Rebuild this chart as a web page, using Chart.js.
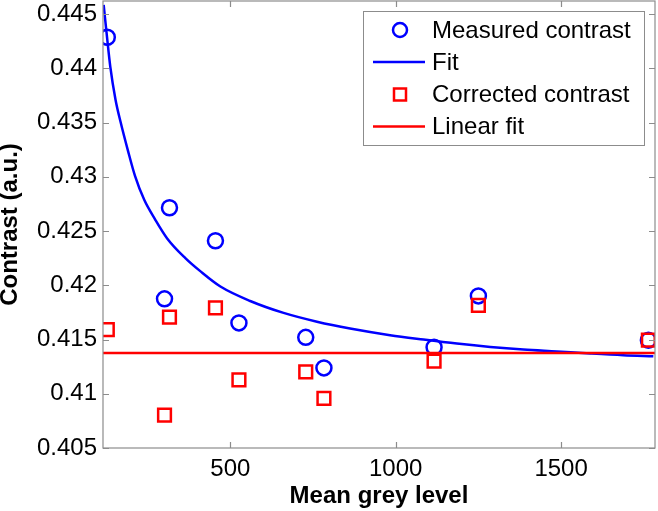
<!DOCTYPE html>
<html>
<head>
<meta charset="utf-8">
<script src="https://cdn.jsdelivr.net/npm/chart.js@4.4.1/dist/chart.umd.min.js"></script>
<style>
  body { margin: 0; background: #fff; }
  canvas { display: block; }
</style>
</head>
<body>
<canvas id="chart" width="658" height="511"></canvas>
<script>
// values
const greyLevels = [128, 301, 316, 455, 526, 728, 783, 1116, 1250, 1764];
const measured   = [0.44286, 0.41875, 0.42714, 0.42410, 0.41653, 0.41520, 0.41238, 0.41429, 0.41902, 0.41494];
const corrected  = [0.41592, 0.40802, 0.41706, 0.41792, 0.41127, 0.41201, 0.40958, 0.41300, 0.41814, 0.41494];

// fitted curve
const fitX = [117, 127, 137, 153, 168, 190, 212, 240, 272, 309, 364, 409, 470, 560, 661, 762, 862, 983, 1084, 1185, 1286, 1386, 1487, 1588, 1688, 1779];
const fitY = [0.44584, 0.44291, 0.44015, 0.43708, 0.43507, 0.43246, 0.43006, 0.42785, 0.42610, 0.42432, 0.42250, 0.42130,
              0.41988, 0.41855, 0.41745, 0.41664, 0.41601, 0.41540, 0.41500, 0.41463, 0.41432, 0.41408, 0.41390, 0.41371, 0.41355, 0.41346];

const linearX = [115, 1784];
const linearY = [0.41376, 0.41376];

const xTicks = [500, 1000, 1500];
const yTicks = [0.405, 0.41, 0.415, 0.42, 0.425, 0.43, 0.435, 0.44, 0.445];

const FONT = '"Liberation Sans", Arial, sans-serif';

function pts(xs, ys) {
    return xs.map((x, i) => ({ x: x, y: ys[i] }));
}

// no extra room for overhanging labels
function noPad(s) {
    s.paddingTop = 0; s.paddingBottom = 0;
    s.paddingLeft = 0; s.paddingRight = 0;
}

// matlab style box with inward ticks
const boxPlugin = {
    id: 'box',
    afterDraw(chart) {
        const ctx = chart.ctx;
        const a = chart.chartArea;
        const xs = chart.scales.x, ys = chart.scales.y;
        const len = 6;
        ctx.save();
        ctx.strokeStyle = '#8c8c8c';
        ctx.lineWidth = 1.2;
        ctx.strokeRect(a.left, a.top, a.right - a.left, a.bottom - a.top);
        ctx.beginPath();
        xTicks.forEach(v => {
            const px = Math.round(xs.getPixelForValue(v)) + 0.5;
            ctx.moveTo(px, a.bottom); ctx.lineTo(px, a.bottom - len);
            ctx.moveTo(px, a.top); ctx.lineTo(px, a.top + len);
        });
        yTicks.forEach(v => {
            const py = Math.round(ys.getPixelForValue(v)) + 0.5;
            ctx.moveTo(a.left, py); ctx.lineTo(a.left + len, py);
            ctx.moveTo(a.right, py); ctx.lineTo(a.right - len, py);
        });
        ctx.stroke();
        ctx.restore();
    }
};

// legend box inside the plot, top right
const legendPlugin = {
    id: 'insideLegend',
    afterDatasetsDraw(chart) {
        const ctx = chart.ctx;
        const x0 = 363.5, y0 = 11.5, w = 281, h = 134;
        ctx.save();
        ctx.fillStyle = '#fff';
        ctx.fillRect(x0, y0, w, h);
        ctx.strokeStyle = '#8c8c8c';
        ctx.lineWidth = 1;
        ctx.strokeRect(x0, y0, w, h);
        ctx.font = '24px ' + FONT;
        ctx.textBaseline = 'middle';
        ctx.textAlign = 'left';
        const rowY = [30, 62, 94.5, 126.5];
        chart.data.datasets.forEach((ds, i) => {
            const y = rowY[i];
            ctx.strokeStyle = ds.borderColor;
            ctx.lineWidth = ds.borderWidth;
            ctx.beginPath();
            if (ds.showLine) {
                ctx.moveTo(373, y); ctx.lineTo(425, y);
            } else if (ds.pointStyle === 'circle') {
                ctx.arc(400, y, 7, 0, Math.PI * 2);
            } else {
                ctx.rect(394, y - 6, 12, 12);
            }
            ctx.stroke();
            ctx.fillStyle = '#000';
            ctx.fillText(ds.label, 432, y + 1);
        });
        ctx.restore();
    }
};

new Chart(document.getElementById('chart'), {
    type: 'scatter',
    data: {
        datasets: [
            {
                label: 'Measured contrast',
                data: pts(greyLevels, measured),
                showLine: false,
                pointStyle: 'circle',
                pointRadius: 7.5,
                borderColor: '#0000ff',
                backgroundColor: 'transparent',
                borderWidth: 2.5,
                order: 4
            },
            {
                label: 'Fit',
                data: pts(fitX, fitY),
                showLine: true,
                cubicInterpolationMode: 'monotone',
                pointRadius: 0,
                borderColor: '#0000ff',
                borderWidth: 2.5,
                order: 3
            },
            {
                label: 'Corrected contrast',
                data: pts(greyLevels, corrected),
                showLine: false,
                pointStyle: 'rect',
                pointRadius: 9,
                borderColor: '#ff0000',
                backgroundColor: 'transparent',
                borderWidth: 2.5,
                order: 2
            },
            {
                label: 'Linear fit',
                data: pts(linearX, linearY),
                showLine: true,
                pointRadius: 0,
                borderColor: '#ff0000',
                borderWidth: 2.5,
                order: 1
            }
        ]
    },
    options: {
        responsive: false,
        animation: false,
        layout: { autoPadding: false, padding: { top: 1, right: 3, left: 0, bottom: 0 } },
        plugins: {
            legend: { display: false },
            tooltip: { enabled: false }
        },
        scales: {
            x: {
                type: 'linear',
                min: 115,
                max: 1784,
                grid: { display: false, drawTicks: false },
                border: { display: false },
                afterBuildTicks: s => { s.ticks = xTicks.map(v => ({ value: v })); },
                afterFit: s => { s.height = 63; noPad(s); },
                ticks: {
                    color: '#000',
                    padding: 7,
                    maxRotation: 0,
                    font: { family: FONT, size: 24 },
                    callback: v => String(v)
                },
                title: {
                    display: true,
                    text: 'Mean grey level',
                    color: '#000',
                    padding: 0,
                    font: { family: FONT, size: 24, weight: 'bold', lineHeight: 1.2 }
                }
            },
            y: {
                type: 'linear',
                min: 0.405,
                max: 0.4462,
                grid: { display: false, drawTicks: false },
                border: { display: false },
                afterBuildTicks: s => { s.ticks = yTicks.map(v => ({ value: v })); },
                afterFit: s => { s.width = 103; noPad(s); },
                ticks: {
                    color: '#000',
                    padding: 6,
                    font: { family: FONT, size: 24 },
                    callback: v => String(+v.toFixed(3))
                },
                title: {
                    display: true,
                    text: 'Contrast (a.u.)',
                    color: '#000',
                    padding: 0,
                    font: { family: FONT, size: 24, weight: 'bold', lineHeight: 0.83 }
                }
            }
        }
    },
    plugins: [boxPlugin, legendPlugin]
});
</script>
</body>
</html>
